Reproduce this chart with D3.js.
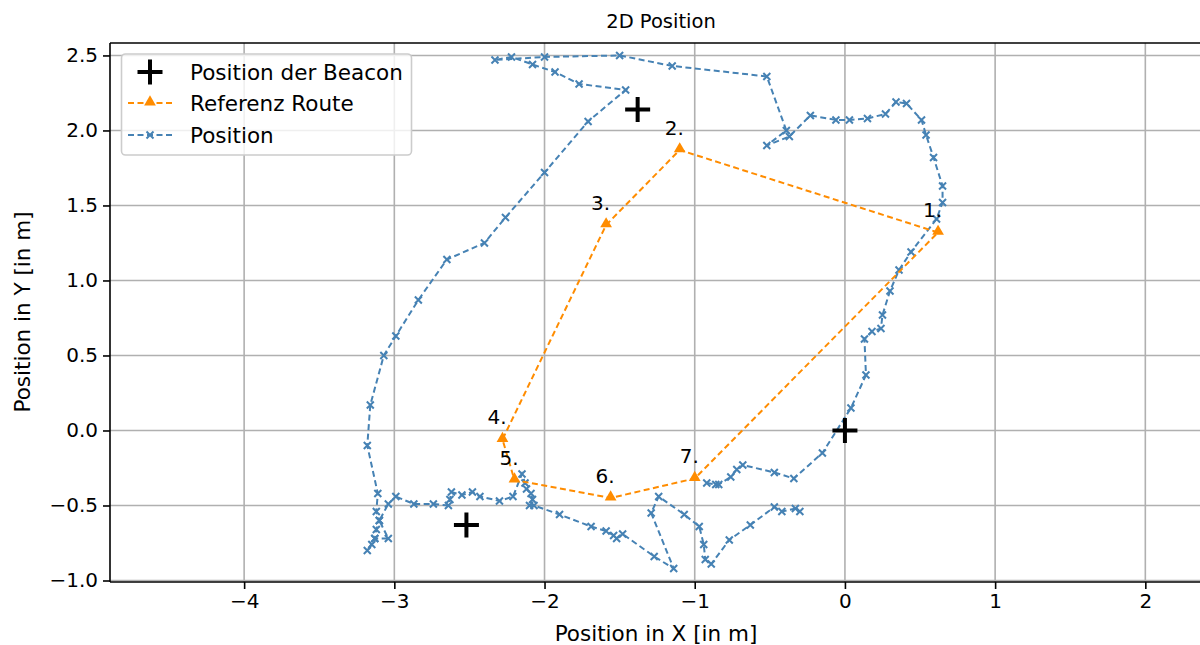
<!DOCTYPE html>
<html>
<head>
<meta charset="utf-8">
<script src="https://cdn.jsdelivr.net/npm/d3@7"></script>
<style>
  body { margin: 0; background: #fff; }
  text { font-family: "DejaVu Sans", sans-serif; }
</style>
</head>
<body>
<div id="chart"></div>
<script>
var posX = [-0.92, -0.86, -0.84, -0.76, -0.72, -0.68, -0.47, -0.34, -0.15, 0.04,
            0.14, 0.13, 0.18, 0.24, 0.25, 0.30, 0.36, 0.44, 0.61, 0.65,
            0.65, 0.59, 0.54, 0.51, 0.41, 0.34, 0.27, 0.15, 0.03, -0.06,
            -0.23, -0.37, -0.52, -0.39, -0.52, -1.15, -1.50, -2.00, -2.33, -2.22,
            -2.08, -1.93, -1.77, -1.46, -1.71, -2.00, -2.26, -2.40, -2.65, -2.84,
            -2.99, -3.07, -3.16, -3.18, -3.11, -3.12, -3.10, -3.12, -3.13, -3.15,
            -3.18, -3.13, -3.04, -3.10, -3.04, -2.99, -2.87, -2.74, -2.64, -2.63,
            -2.62, -2.55, -2.48, -2.43, -2.30, -2.21, -2.15, -2.13, -2.12, -2.09,
            -2.08, -2.10, -2.07, -1.90, -1.69, -1.59, -1.54, -1.52, -1.48, -1.27,
            -1.14, -1.29, -1.24, -1.07, -0.97, -0.94, -0.93, -0.89, -0.77, -0.63,
            -0.47, -0.42, -0.33, -0.30];
var posY = [-0.35, -0.36, -0.36, -0.31, -0.26, -0.23, -0.28, -0.32, -0.15, 0.15,
            0.37, 0.61, 0.66, 0.68, 0.77, 0.93, 1.07, 1.19, 1.41, 1.52,
            1.63, 1.82, 1.97, 2.07, 2.18, 2.19, 2.11, 2.08, 2.07, 2.07,
            2.10, 1.96, 1.90, 2.00, 2.36, 2.43, 2.50, 2.49, 2.47, 2.49,
            2.44, 2.39, 2.31, 2.27, 2.06, 1.72, 1.42, 1.25, 1.14, 0.87,
            0.63, 0.50, 0.17, -0.10, -0.42, -0.54, -0.60, -0.66, -0.72, -0.76,
            -0.80, -0.72, -0.72, -0.60, -0.49, -0.44, -0.49, -0.49, -0.50, -0.46,
            -0.41, -0.43, -0.41, -0.44, -0.47, -0.44, -0.29, -0.35, -0.39, -0.42,
            -0.46, -0.50, -0.50, -0.56, -0.64, -0.67, -0.70, -0.72, -0.69, -0.84,
            -0.92, -0.55, -0.44, -0.56, -0.64, -0.76, -0.86, -0.89, -0.73, -0.63,
            -0.51, -0.54, -0.52, -0.54];

var routeX = [0.62, -1.10, -1.59, -2.28, -2.20, -1.56, -1.00, 0.62];
var routeY = [1.32, 1.87, 1.37, -0.06, -0.33, -0.45, -0.32, 1.32];
var routeLabels = ["1.", "2.", "3.", "4.", "5.", "6.", "7."];

var beaconX = [0, -1.38, -2.52];
var beaconY = [0, 2.14, -0.63];

var xTicks = [-4, -3, -2, -1, 0, 1, 2];
var yTicks = [-1.0, -0.5, 0.0, 0.5, 1.0, 1.5, 2.0, 2.5];

drawChart();

function drawChart() {
    var W = 1200, H = 645;
    var pLeft = 110, pTop = 43, pRight = 1200, pBottom = 582;

    var svg = d3.select("#chart").append("svg")
        .attr("width", W).attr("height", H);

    var x = d3.scaleLinear().domain([-4.893, 2.364]).range([pLeft, pRight]);
    var y = d3.scaleLinear().domain([-1.01, 2.583]).range([pBottom, pTop]);

    var fmtY = function(d) { return d3.format(".1f")(d).replace("-", "\u2212"); };
    var fmtX = function(d) { return String(d).replace("-", "\u2212"); };

    // grid
    svg.append("g").selectAll("line").data(xTicks).enter().append("line")
        .attr("x1", d => x(d)).attr("x2", d => x(d))
        .attr("y1", pTop).attr("y2", pBottom)
        .attr("stroke", "#b0b0b0").attr("stroke-width", 1.6);
    svg.append("g").selectAll("line").data(yTicks).enter().append("line")
        .attr("x1", pLeft).attr("x2", pRight)
        .attr("y1", d => y(d)).attr("y2", d => y(d))
        .attr("stroke", "#b0b0b0").attr("stroke-width", 1.6);

    // axes
    var xAxis = svg.append("g").attr("transform", "translate(0," + pBottom + ")")
        .call(d3.axisBottom(x).tickValues(xTicks).tickFormat(fmtX).tickSize(7).tickPadding(5));
    var yAxis = svg.append("g").attr("transform", "translate(" + pLeft + ",0)")
        .call(d3.axisLeft(y).tickValues(yTicks).tickFormat(fmtY).tickSize(7).tickPadding(5));
    [xAxis, yAxis].forEach(function(a) {
        a.select(".domain").remove();
        a.selectAll("line").attr("stroke", "#000").attr("stroke-width", 1.6);
        a.selectAll("text").attr("font-size", 20).attr("fill", "#000")
            .style("font-family", "DejaVu Sans");
    });

    // spines
    svg.append("line").attr("x1", pLeft).attr("x2", pLeft).attr("y1", pTop).attr("y2", pBottom)
        .attr("stroke", "#000").attr("stroke-width", 1.6);
    svg.append("line").attr("x1", pLeft).attr("x2", pRight).attr("y1", pTop).attr("y2", pTop)
        .attr("stroke", "#000").attr("stroke-width", 1.6);
    svg.append("line").attr("x1", pLeft).attr("x2", pRight).attr("y1", pBottom).attr("y2", pBottom)
        .attr("stroke", "#000").attr("stroke-width", 1.6);

    var blue = "steelblue", orange = "darkorange";
    var line = d3.line().x(d => x(d[0])).y(d => y(d[1]));

    var posPts = posX.map((d, i) => [d, posY[i]]);
    var routePts = routeX.map((d, i) => [d, routeY[i]]);

    svg.append("path").datum(posPts).attr("d", line)
        .attr("fill", "none").attr("stroke", blue).attr("stroke-width", 2)
        .attr("stroke-dasharray", "6,3.5");

    function xMark(g, cx, cy, s) {
        g.append("path")
            .attr("d", "M" + (cx - s) + "," + (cy - s) + "L" + (cx + s) + "," + (cy + s) +
                       "M" + (cx - s) + "," + (cy + s) + "L" + (cx + s) + "," + (cy - s))
            .attr("stroke", blue).attr("stroke-width", 2).attr("fill", "none");
    }
    var posG = svg.append("g");
    posPts.forEach(function(p) { xMark(posG, x(p[0]), y(p[1]), 3.5); });

    svg.append("path").datum(routePts).attr("d", line)
        .attr("fill", "none").attr("stroke", orange).attr("stroke-width", 2)
        .attr("stroke-dasharray", "6,3.5");

    var tri = d3.symbol().type(d3.symbolTriangle).size(60);
    svg.append("g").selectAll("path").data(routePts.slice(0, 7)).enter().append("path")
        .attr("d", tri)
        .attr("transform", d => "translate(" + x(d[0]) + "," + (y(d[1]) - 1) + ")")
        .attr("fill", orange);

    svg.append("g").selectAll("text").data(routePts.slice(0, 7)).enter().append("text")
        .attr("x", d => x(d[0]) - 15).attr("y", d => y(d[1]) - 15)
        .attr("font-size", 20).text((d, i) => routeLabels[i]);

    function plus(g, cx, cy, s) {
        g.append("path")
            .attr("d", "M" + (cx - s) + "," + cy + "L" + (cx + s) + "," + cy +
                       "M" + cx + "," + (cy - s) + "L" + cx + "," + (cy + s))
            .attr("stroke", "#000").attr("stroke-width", 4).attr("fill", "none");
    }
    var beaconG = svg.append("g");
    beaconX.forEach(function(bx, i) { plus(beaconG, x(bx), y(beaconY[i]), 12.5); });

    // legend
    var lg = svg.append("g");
    lg.append("rect").attr("x", 121.5).attr("y", 54).attr("width", 290).attr("height", 101)
        .attr("rx", 4).attr("fill", "#fff").attr("fill-opacity", 0.8)
        .attr("stroke", "#ccc").attr("stroke-width", 1.6);
    var rows = [72, 103, 135];
    plus(lg, 150, rows[0], 12.5);
    [[orange, rows[1]], [blue, rows[2]]].forEach(function(r) {
        lg.append("line").attr("x1", 128).attr("x2", 172).attr("y1", r[1]).attr("y2", r[1])
            .attr("stroke", r[0]).attr("stroke-width", 2).attr("stroke-dasharray", "6,3.5");
    });
    lg.append("path").attr("d", tri).attr("transform", "translate(150," + (rows[1] - 1) + ")").attr("fill", orange);
    xMark(lg, 150, rows[2], 3.5);
    ["Position der Beacon", "Referenz Route", "Position"].forEach(function(t, i) {
        lg.append("text").attr("x", 190).attr("y", rows[i]).attr("dy", "0.35em")
            .attr("font-size", 21.5).text(t);
    });

    // titles
    svg.append("text").attr("x", 661).attr("y", 21).attr("dy", "0.35em")
        .attr("text-anchor", "middle").attr("font-size", 19.5).text("2D Position");
    svg.append("text").attr("x", 656).attr("y", 633).attr("dy", "0.35em")
        .attr("text-anchor", "middle").attr("font-size", 21.5).text("Position in X [in m]");
    svg.append("text").attr("transform", "translate(22,312) rotate(-90)").attr("dy", "0.35em")
        .attr("text-anchor", "middle").attr("font-size", 21.5).text("Position in Y [in m]");
}
</script>
</body>
</html>
